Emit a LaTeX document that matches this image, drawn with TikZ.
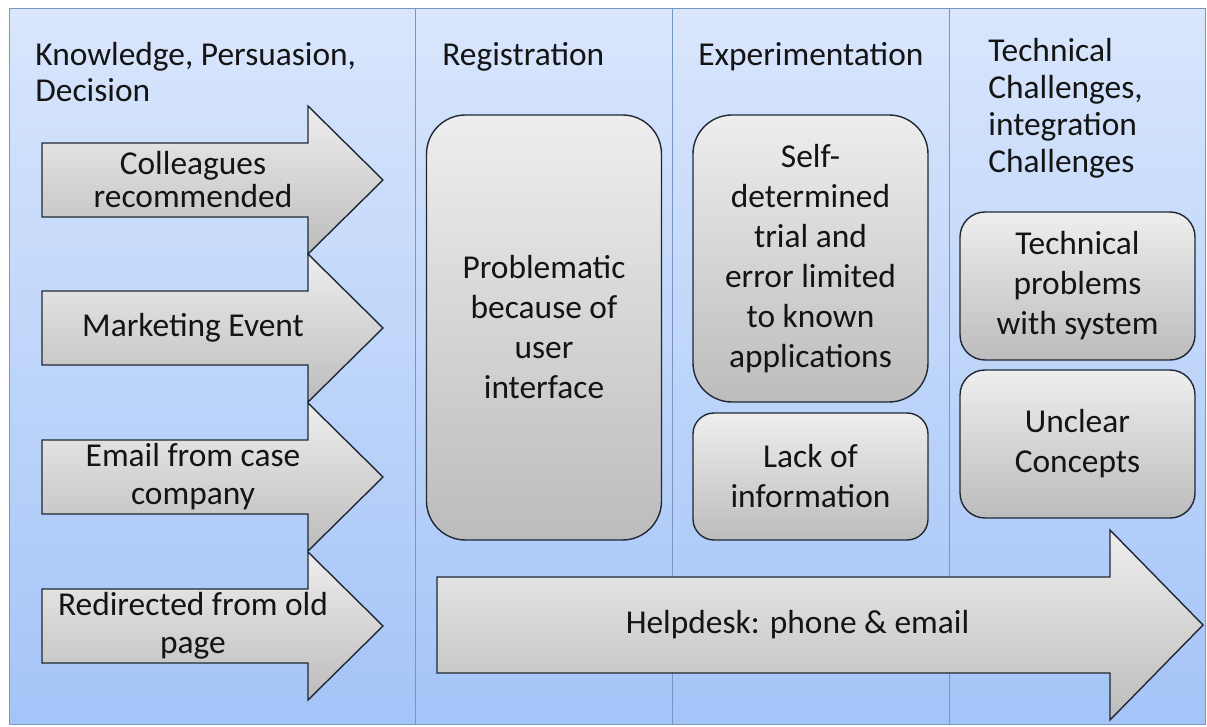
\documentclass[tikz,border=0pt]{standalone}
\usepackage{fontspec}
\setmainfont{Carlito}
\definecolor{paneltop}{RGB}{217,230,252}
\definecolor{panelbot}{RGB}{164,196,248}
\definecolor{panelline}{RGB}{120,150,196}
\definecolor{cardtop}{RGB}{238,238,238}
\definecolor{cardbot}{RGB}{188,188,188}
\definecolor{cardline}{RGB}{32,40,52}
\definecolor{ink}{RGB}{20,20,20}
\begin{document}
\begin{tikzpicture}[x=0.5pt,y=-0.5pt,
   panel/.style={draw=panelline,line width=0.5pt,top color=paneltop,bottom color=panelbot},
   card/.style={draw=cardline,line width=0.7pt,top color=cardtop,bottom color=cardbot},
   label/.style={font=\fontsize{16.7}{19}\selectfont,align=center,text=ink,inner sep=0pt},
   boxlabel/.style={card,font=\fontsize{16.7}{20}\selectfont,align=center,text=ink,
                    minimum width=117.5pt,inner sep=0pt},
   heading/.style={font=\fontsize{16.7}{18}\selectfont,align=left,anchor=north west,
                   inner sep=0pt,text=ink}]
   \useasboundingbox (0,0) rectangle (1207,727);

   % phase columns
   \draw[panel] (9,9) rectangle (415,725);
   \draw[panel] (415,9) rectangle (672,725);
   \draw[panel] (672,9) rectangle (949,725);
   \draw[panel] (949,9) rectangle (1205,725);

   \node[heading] (knowhead) at (35,42) {Knowledge, Persuasion,\\Decision};
   \node[heading] (reghead) at (442,42) {Registration};
   \node[heading] (exphead) at (698,42) {Experimentation};
   \node[heading,font=\fontsize{16.7}{18.5}\selectfont] (techhead) at (988,38)
      {Technical\\Challenges,\\integration\\Challenges};

   % entry arrows
   \draw[card] (42,143) -- (308,143) -- (308,106) -- (383,180) -- (308,254) -- (308,217) -- (42,217) -- cycle;
   \node[label,font=\fontsize{16.7}{16.5}\selectfont] (colleagues) at (193,180) {Colleagues\\recommended};

   \draw[card] (42,291) -- (308,291) -- (308,254) -- (383,328) -- (308,402) -- (308,365) -- (42,365) -- cycle;
   \node[label] (marketing) at (193,328) {Marketing Event};

   \draw[card] (42,440) -- (308,440) -- (308,403) -- (383,477) -- (308,551) -- (308,514) -- (42,514) -- cycle;
   \node[label] (email) at (193,477) {Email from case\\company};

   \draw[card] (42,589) -- (308,589) -- (308,552) -- (383,626) -- (308,700) -- (308,663) -- (42,663) -- cycle;
   \node[label] (redirect) at (193,626) {Redirected from old\\page};

   % boxes
   \node[boxlabel,minimum height=212.5pt,rounded corners=19.5pt] (problem) at (544,327.5)
      {Problematic\\because of\\user\\interface};
   \node[boxlabel,minimum height=143.5pt,rounded corners=19.5pt] (selftrial) at (810.5,258.5)
      {Self-\\determined\\trial and\\error limited\\to known\\applications};
   \node[boxlabel,minimum height=63.5pt,rounded corners=10.5pt] (lackinfo) at (810.5,476.5)
      {Lack of\\information};
   \node[boxlabel,minimum height=74pt,rounded corners=12.5pt] (techprob) at (1077.5,286)
      {Technical\\problems\\with system};
   \node[boxlabel,minimum height=74pt,rounded corners=12.5pt] (unclear) at (1077.5,444)
      {Unclear\\Concepts};

   % helpdesk
   \draw[card] (437,577) -- (1110,577) -- (1110,530) -- (1203,625) -- (1110,720) -- (1110,673) -- (437,673) -- cycle;
   \node[label] (helpdesk) at (797.5,625) {Helpdesk: phone \& email};
\end{tikzpicture}
\end{document}
